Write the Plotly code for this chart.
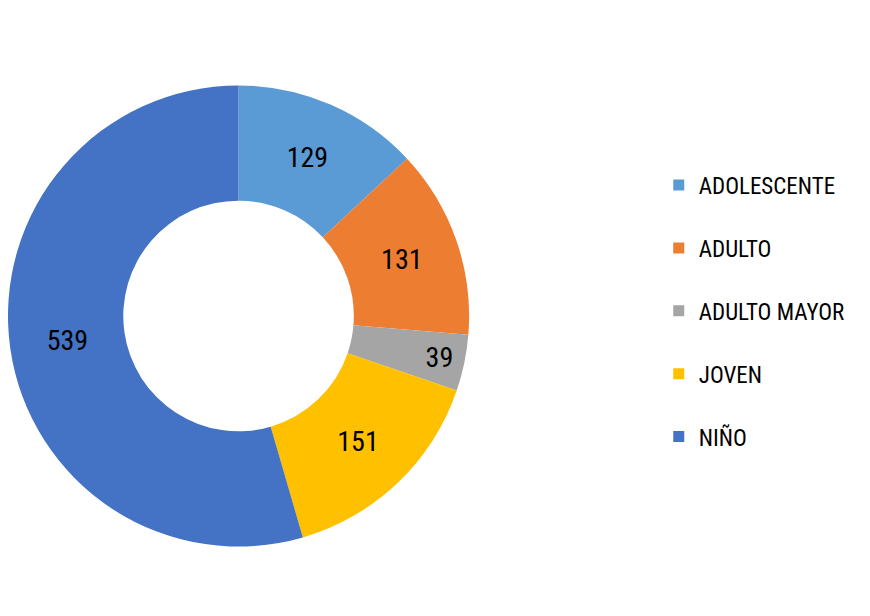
import plotly.graph_objects as go

categories = ["ADOLESCENTE", "ADULTO", "ADULTO MAYOR", "JOVEN", "NIÑO"]
values = [129, 131, 39, 151, 539]
colors = ["#5B9BD5", "#ED7D31", "#A5A5A5", "#FFC000", "#4472C4"]

FONT = "Liberation Sans Narrow, Roboto Condensed, Arial Narrow, Liberation Sans, sans-serif"

fig = go.Figure()
fig.add_trace(go.Pie(
    labels=categories,
    values=values,
    marker=dict(colors=colors, line=dict(color="white", width=0)),
    hole=0.5,
    sort=False,
    direction="clockwise",
    rotation=0,
    textinfo="value",
    textposition="inside",
    insidetextorientation="horizontal",
    textfont=dict(family=FONT, size=28, color="black"),
    domain=dict(x=[0, 0.53], y=[0, 1]),
    showlegend=False,
    hoverinfo="label+value",
))

# legend entries (one group each so the gap between entries can be set)
for name, col in zip(categories, colors):
    fig.add_trace(go.Scatter(
        x=[None], y=[None], mode="markers", name=name,
        legendgroup=name,
        marker=dict(symbol="square", size=11, color=col),
        hoverinfo="skip",
    ))

fig.update_layout(
    width=870, height=616,
    margin=dict(l=0, r=0, t=0, b=0),
    paper_bgcolor="white",
    plot_bgcolor="white",
    xaxis=dict(visible=False),
    yaxis=dict(visible=False),
    showlegend=True,
    legend=dict(
        x=0.748, y=0.508, xanchor="left", yanchor="middle",
        font=dict(family=FONT, size=23, color="black"),
        itemwidth=30,
        tracegroupgap=30,
        traceorder="grouped",
    ),
)

fig.write_html("out.html")
